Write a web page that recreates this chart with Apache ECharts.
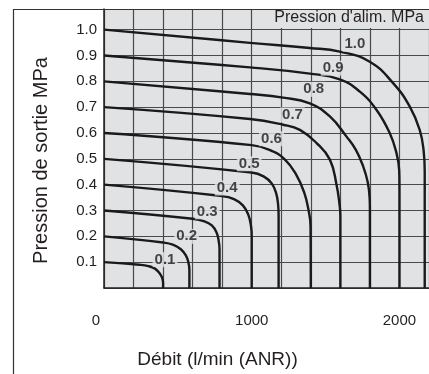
<!DOCTYPE html>
<html><head><meta charset="utf-8">
<script src="https://cdn.jsdelivr.net/npm/echarts@6/dist/echarts.min.js"></script>
<style>html,body{margin:0;padding:0;background:#fff}#c{width:429px;height:374px}</style>
</head><body><div id="c"></div>
<script>
// Output pressure vs flow, one curve per supply pressure [flow l/min, pressure MPa]
const curve01 = [[0,0.1],[240,0.09],[300,0.085],[345,0.075],[375,0.058],[393,0.040],[400,0.02],[400,0]];
const curve02 = [[0,0.2],[400,0.176],[470,0.167],[520,0.150],[553,0.127],[571,0.100],[578,0.07],[578,0]];
const curve03 = [[0,0.3],[600,0.268],[680,0.258],[730,0.242],[762,0.215],[777,0.18],[782,0.15],[782,0]];
const curve04 = [[0,0.4],[800,0.356],[880,0.344],[940,0.320],[976,0.285],[995,0.24],[1000,0.2],[1000,0]];
const curve05 = [[0,0.5],[1000,0.447],[1080,0.432],[1135,0.405],[1166,0.365],[1179,0.32],[1182,0.28],[1182,0]];
const curve06 = [[0,0.6],[1000,0.553],[1120,0.535],[1220,0.500],[1300,0.44],[1355,0.37],[1385,0.30],[1398,0.24],[1400,0]];
const curve07 = [[0,0.7],[988,0.654],[1213,0.632],[1326,0.612],[1439,0.561],[1529,0.497],[1574,0.40],[1595,0.32],[1600,0.28],[1600,0]];
const curve08 = [[0,0.8],[988,0.751],[1213,0.737],[1393,0.715],[1529,0.664],[1642,0.586],[1705,0.535],[1755,0.47],[1785,0.41],[1798,0.35],[1800,0.3],[1800,0]];
const curve09 = [[0,0.9],[988,0.854],[1393,0.830],[1596,0.808],[1732,0.760],[1844,0.690],[1934,0.600],[1980,0.522],[1998,0.458],[2000,0.40],[2000,0]];
const curve10 = [[0,1.0],[988,0.949],[1393,0.929],[1596,0.915],[1799,0.876],[1957,0.793],[2070,0.702],[2137,0.612],[2164,0.53],[2171,0.45],[2171,0]];

// Curve labels (supply pressure)
const labelText = ['0.1','0.2','0.3','0.4','0.5','0.6','0.7','0.8','0.9','1.0'];
const labelQ = [413,559,699,834,983,1134,1276,1420,1551,1698];
const labelP = [0.110,0.200,0.295,0.387,0.481,0.578,0.670,0.769,0.851,0.944];

const xTickLabels = ['0','1000','2000'];
const yTickLabels = ['0.1','0.2','0.3','0.4','0.5','0.6','0.7','0.8','0.9','1.0'];

const FONT = 'Liberation Sans, Arial, sans-serif';
const BG = '#e1e2e3';
const TXT = '#231f20';
const curves = [curve01,curve02,curve03,curve04,curve05,curve06,curve07,curve08,curve09,curve10];

const chart = echarts.init(document.getElementById('c'), null, {renderer:'canvas'});
const series = curves.map((d,i)=>({
  type:'line', data:d, showSymbol:false, smooth:0.45,
  lineStyle:{color:'#1a1a1a', width:2.4}, z:3, silent:true
}));
series.push({
  type:'scatter', symbolSize:0, z:5, silent:true,
  data: labelQ.map((q,i)=>[q,labelP[i],labelText[i]]),
  label:{show:true, position:'inside', formatter:p=>p.value[2],
    fontFamily:FONT, fontWeight:'bold', fontSize:15, color:'#1a1a1a',
    backgroundColor:BG, padding:[0,2,0,2]}
});
chart.setOption({
  animation:false,
  grid:{left:104, right:0, top:9, bottom:85, show:true, backgroundColor:BG, borderWidth:0},
  xAxis:{type:'value', min:0, max:2200, interval:200,
    axisLine:{show:true, lineStyle:{color:'#222', width:1.5}},
    axisTick:{show:false},
    splitLine:{show:true, lineStyle:{color:'#4a4a4a', width:1.2}},
    axisLabel:{margin:25, fontFamily:FONT, fontSize:15, color:TXT, showMaxLabel:false,
      formatter:v=>{ if(v===0) return '{z|'+xTickLabels[0]+'}'; const s=String(v); return xTickLabels.indexOf(s)>=0 ? s : ''; },
      rich:{z:{fontFamily:FONT, fontSize:15, color:TXT, padding:[0,16,0,0]}}},
    name:'Débit (l/min (ANR))', nameLocation:'middle', nameGap:62,
    nameTextStyle:{fontFamily:FONT, fontSize:19, color:TXT, padding:[0,0,0,-98]}
  },
  yAxis:{type:'value', min:0, max:1.08, interval:0.1,
    axisLine:{show:true, lineStyle:{color:'#222', width:1.5}},
    axisTick:{show:false},
    splitLine:{show:true, lineStyle:{color:'#4a4a4a', width:1.2}},
    axisLabel:{margin:7, fontFamily:FONT, fontSize:15, color:TXT, showMinLabel:false, showMaxLabel:false,
      formatter:v=>{ const s=v.toFixed(1); return yTickLabels.indexOf(s)>=0 ? s : ''; }},
    name:'Pression de sortie MPa', nameLocation:'middle', nameGap:53,
    nameTextStyle:{fontFamily:FONT, fontSize:20, color:TXT, padding:[0,0,0,-24]}
  },
  graphic:[
    {type:'rect', shape:{x:268, y:9, width:161, height:19}, style:{fill:BG}, z:10},
    {type:'text', right:5, top:10, z:11, style:{text:"Pression d'alim. MPa", font:'16px '+FONT, fill:TXT}},
    {type:'line', shape:{x1:13, y1:9.5, x2:429, y2:9.5}, style:{stroke:'#333', lineWidth:1.2}, z:12},
    {type:'line', shape:{x1:13.5, y1:9, x2:13.5, y2:374}, style:{stroke:'#333', lineWidth:1.2}, z:12}
  ],
  series:series
});
</script></body></html>
